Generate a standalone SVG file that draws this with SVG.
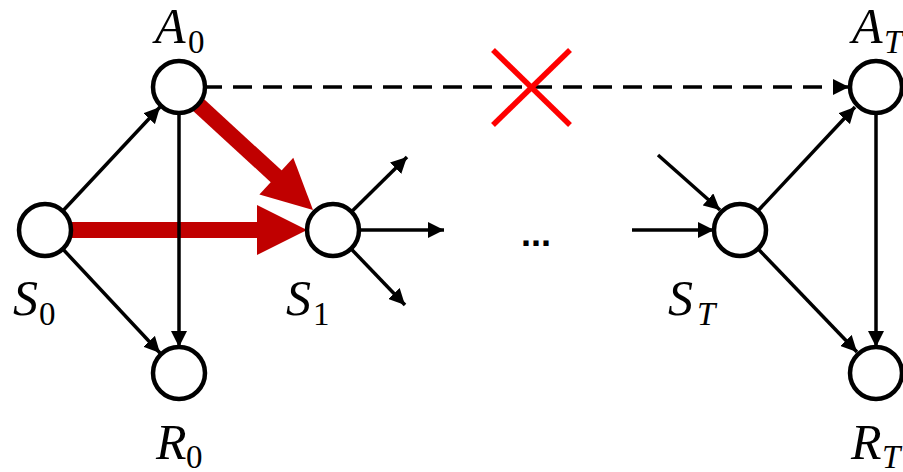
<svg xmlns="http://www.w3.org/2000/svg" width="903" height="472" viewBox="0 0 903 472">
<style>
.edge{stroke:#000;stroke-width:3.5;fill:none;marker-end:url(#ah)}
.red{stroke:#C00000;stroke-width:16;fill:none}
.redhead{fill:#C00000}
.node{fill:#fff;stroke:#000;stroke-width:4.5}
.lbl{font-style:italic;font-size:50px;fill:#000}
.sub{font-size:33px}
.up{font-style:normal}
.cross{stroke:#FF0000;stroke-width:5.5}
</style>
<defs>
<marker id="ah" markerUnits="userSpaceOnUse" markerWidth="16" markerHeight="16" refX="16" refY="8" orient="auto" viewBox="0 0 16 16">
<path d="M0,0 L16,8 L0,16 z" fill="#000"/>
</marker>
</defs>
<rect width="903" height="472" fill="#fff"/>
<g id="connectors">
<line class="red" x1="45" y1="230" x2="260" y2="230"/>
<polygon class="redhead" points="257,205 307,230 257,255"/>
<line class="red" x1="179" y1="87" x2="278" y2="178"/>
<polygon class="redhead" points="259.4,194.5 313,210 293.3,157.7"/>
<line class="edge" x1="45" y1="230" x2="160" y2="107"/>
<line class="edge" x1="45" y1="230" x2="160" y2="353"/>
<line class="edge" x1="179" y1="87" x2="179" y2="347"/>
<line class="edge" x1="203" y1="87" x2="849" y2="87" stroke-dasharray="19 11"/>
<line class="edge" x1="333" y1="230" x2="407" y2="157"/>
<line class="edge" x1="333" y1="230" x2="444" y2="230"/>
<line class="edge" x1="333" y1="230" x2="405" y2="305"/>
<line class="edge" x1="632" y1="230" x2="714" y2="230"/>
<line class="edge" x1="658" y1="155" x2="720" y2="210"/>
<line class="edge" x1="740" y1="230" x2="855" y2="107"/>
<line class="edge" x1="740" y1="230" x2="857" y2="352"/>
<line class="edge" x1="876" y1="87" x2="876" y2="347"/>
</g>
<g id="cross">
<line class="cross" x1="493" y1="50" x2="570" y2="125"/>
<line class="cross" x1="570" y1="50" x2="493" y2="125"/>
</g>
<g id="A0"><circle class="node" cx="179" cy="87" r="26"/><text class="lbl" font-family="Liberation Serif, DejaVu Serif, serif"><tspan x="155" y="43">A</tspan><tspan class="sub up" x="188" y="53">0</tspan></text></g>
<g id="S0"><circle class="node" cx="45" cy="230" r="26"/><text class="lbl" font-family="Liberation Serif, DejaVu Serif, serif"><tspan x="13" y="315">S</tspan><tspan class="sub up" x="39" y="325">0</tspan></text></g>
<g id="R0"><circle class="node" cx="179" cy="373" r="26"/><text class="lbl" font-family="Liberation Serif, DejaVu Serif, serif"><tspan x="156" y="459">R</tspan><tspan class="sub up" x="186" y="468">0</tspan></text></g>
<g id="S1"><circle class="node" cx="333" cy="230" r="26"/><text class="lbl" font-family="Liberation Serif, DejaVu Serif, serif"><tspan x="286" y="315">S</tspan><tspan class="sub up" x="313" y="325">1</tspan></text></g>
<g id="ellipsis"><text x="536" y="246" text-anchor="middle" font-family="Liberation Sans, sans-serif" font-weight="bold" font-size="36">...</text></g>
<g id="ST"><circle class="node" cx="740" cy="230" r="26"/><text class="lbl" font-family="Liberation Serif, DejaVu Serif, serif"><tspan x="668" y="315">S</tspan><tspan class="sub" x="697" y="325">T</tspan></text></g>
<g id="AT"><circle class="node" cx="876" cy="87" r="26"/><text class="lbl" font-family="Liberation Serif, DejaVu Serif, serif"><tspan x="852" y="43">A</tspan><tspan class="sub" x="884" y="53">T</tspan></text></g>
<g id="RT"><circle class="node" cx="876" cy="373" r="26"/><text class="lbl" font-family="Liberation Serif, DejaVu Serif, serif"><tspan x="851" y="459">R</tspan><tspan class="sub" x="882" y="468">T</tspan></text></g>
</svg>
